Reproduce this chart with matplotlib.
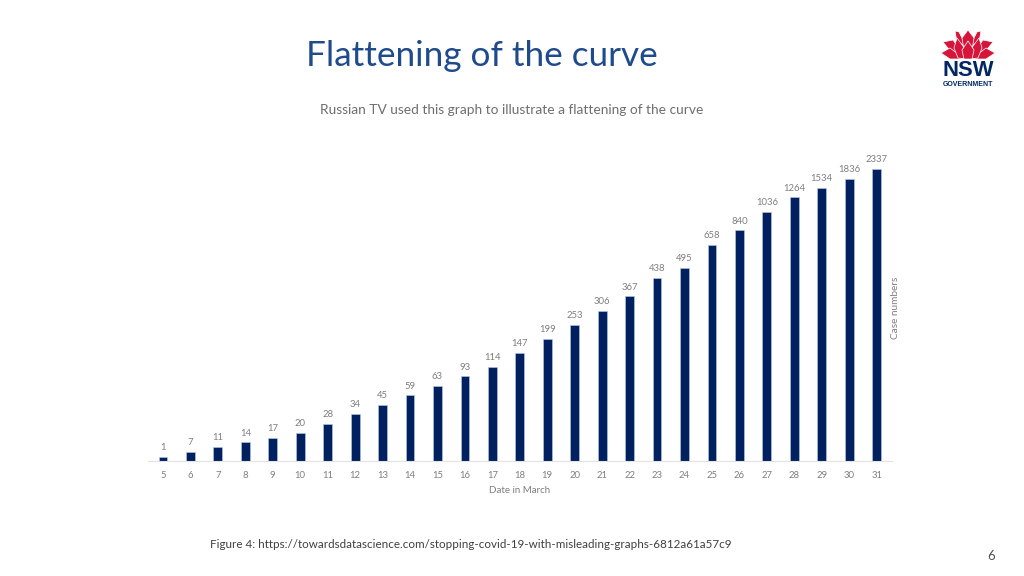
#!/usr/bin/env python3
"""Flattening of the curve slide: bars with the case numbers written on top"""

import matplotlib
matplotlib.use("Agg")
import matplotlib.pyplot as plt
from matplotlib.patches import Polygon

days = [5, 6, 7, 8, 9, 10, 11, 12, 13, 14, 15, 16, 17, 18,
        19, 20, 21, 22, 23, 24, 25, 26, 27, 28, 29, 30, 31]
case_labels = [1, 7, 11, 14, 17, 20, 28, 34, 45, 59, 63, 93, 114, 147,
               199, 253, 306, 367, 438, 495, 658, 840, 1036, 1264, 1534, 1836, 2337]
# drawn height of each bar, the source chart is not proportional to the labels
bar_heights = [1, 2, 3, 4, 5, 6, 8, 10, 12, 14, 16, 18, 20, 23,
               26, 29, 32, 35, 39, 41, 46, 49, 53, 56, 58, 60, 62]

W, H = 1024, 576
NAVY = "#002060"
GREY = "#7f7f7f"
FONT = ["Lato", "DejaVu Sans"]

plt.rcParams["font.family"] = FONT
fig = plt.figure(figsize=(W / 100, H / 100), dpi=100, facecolor="white")

# overlay in pixel coordinates for the slide text and logo
page = fig.add_axes([0, 0, 1, 1])
page.set_xlim(0, W)
page.set_ylim(H, 0)
page.axis("off")

page.text(482, 55.5, "Flattening of the curve", fontsize=25.3, color="#1F4A8C", ha="center", va="center")
page.text(512, 110, "Russian TV used this graph to illustrate a flattening of the curve",
          fontsize=9.9, color="#6f6f6f", ha="center", va="center")
page.text(210, 544, "Figure 4: https://towardsdatascience.com/stopping-covid-19-with-misleading-graphs-6812a61a57c9",
          fontsize=8.4, color="#404040", ha="left", va="center")
page.text(991, 556, "6", fontsize=9.5, color="#505050", ha="center", va="center")

# chart
left, right, bottom, top = 148, 892, 461.3, 140
ax = fig.add_axes([left / W, 1 - bottom / H, (right - left) / W, (bottom - top) / H])
ax.patch.set_alpha(0)
x = list(range(len(days)))
bars = ax.bar(x, bar_heights, width=0.32, color=NAVY, edgecolor="#b8cbe6", linewidth=0.4)
ax.set_xlim(-0.546, 26.56)
ax.set_ylim(0, 68.2)
ax.bar_label(bars, labels=[str(v) for v in case_labels], padding=3.4, fontsize=6.8, color=GREY)
ax.set_xticks(x)
ax.set_xticklabels(days, fontsize=6.8, color=GREY)
ax.tick_params(axis="x", length=0, pad=7)
ax.set_yticks([])
for side in ["top", "right", "left"]:
    ax.spines[side].set_visible(False)
ax.spines["bottom"].set_color("#e2e2e2")
ax.spines["bottom"].set_linewidth(0.8)

page.text(520, 490.5, "Date in March", fontsize=7, color=GREY, ha="center", va="center")
page.text(895.5, 307.5, "Case numbers", fontsize=7.2, color=GREY, ha="center", va="center", rotation=90)

# NSW waratah logo, back petals first
red = "#D7153A"
petals = [
    [(959, 32), (955, 31), (957, 42), (966, 46)],
    [(977, 32), (981, 31), (979, 42), (970, 46)],
    [(968, 30), (962, 38), (964, 50), (968, 54), (972, 50), (974, 38)],
    [(943, 42), (953, 40), (960, 50), (962, 58), (952, 53)],
    [(993, 42), (983, 40), (976, 50), (974, 58), (984, 53)],
    [(941, 53), (950, 48), (958, 54), (962, 59), (950, 59)],
    [(995, 53), (986, 48), (978, 54), (974, 59), (986, 59)],
    [(957, 38), (963, 46), (967, 59), (958, 58), (954, 48)],
    [(979, 38), (973, 46), (969, 59), (978, 58), (982, 48)],
    [(968, 41), (962, 50), (964, 59), (972, 59), (974, 50)],
]
for pts in petals:
    page.add_patch(Polygon(pts, closed=True, facecolor=red, edgecolor="white", linewidth=0.5, joinstyle="round"))

page.text(968.5, 71, "NSW", fontsize=15.8, fontweight="black", color="#002664",
          family=["Liberation Sans", "DejaVu Sans"], ha="center", va="center")
page.text(968, 85, "GOVERNMENT", fontsize=5, fontweight="bold", color="#002664",
          family=["Liberation Sans", "DejaVu Sans"], ha="center", va="center")

fig.savefig("out.png", dpi=100)
